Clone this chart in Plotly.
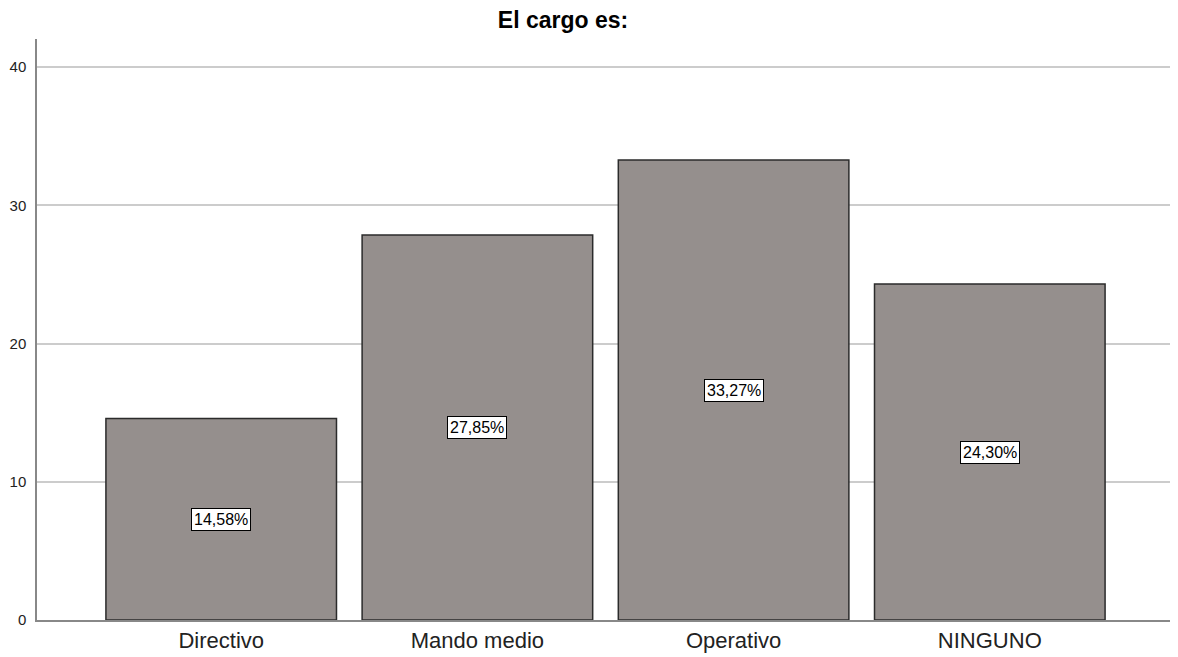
import plotly.graph_objects as go

categories = ["Directivo", "Mando medio", "Operativo", "NINGUNO"]
values = [14.58, 27.85, 33.27, 24.30]
labels = ["14,58%", "27,85%", "33,27%", "24,30%"]
y_ticks = [0, 10, 20, 30, 40]

FONT = "Liberation Sans, Arial, sans-serif"
W, H = 1170, 649

fig = go.Figure()
fig.add_trace(go.Bar(
    x=list(range(len(categories))), y=values,
    marker=dict(color="#958F8D", line=dict(color="#2b2b2b", width=1.5)),
    width=0.9, hoverinfo="skip",
))

for i, (v, lab) in enumerate(zip(values, labels)):
    fig.add_annotation(
        x=i, y=v / 2, text=lab, showarrow=False,
        font=dict(family=FONT, size=16, color="black"),
        bgcolor="white", bordercolor="black", borderwidth=1, borderpad=2,
    )

fig.update_layout(
    width=W, height=H,
    margin=dict(l=29, r=4, t=31, b=37, autoexpand=False),
    paper_bgcolor="white", plot_bgcolor="white",
    showlegend=False,
    title=dict(text="<b>El cargo es:</b>", x=555 / W, xanchor="center", y=1 - 12 / H, yanchor="middle",
               font=dict(family=FONT, size=23, color="black")),
    font=dict(family=FONT, color="black"),
)
fig.update_xaxes(
    range=[-0.719, 3.719], tickmode="array", tickvals=list(range(len(categories))), ticktext=categories,
    showgrid=False, showline=True, linecolor="#888888", linewidth=1.5, ticks="",
    tickfont=dict(size=22, color="#222222"), zeroline=False, automargin=False,
)
fig.update_yaxes(
    range=[0, 42.03], tickmode="array", tickvals=y_ticks,
    showgrid=True, gridcolor="#cccccc", gridwidth=1.5,
    showline=True, linecolor="#888888", linewidth=1.5, ticks="",
    tickfont=dict(size=15, color="#222222"), zeroline=False, ticklabelstandoff=6, automargin=False,
)

fig.write_html("out.html")
